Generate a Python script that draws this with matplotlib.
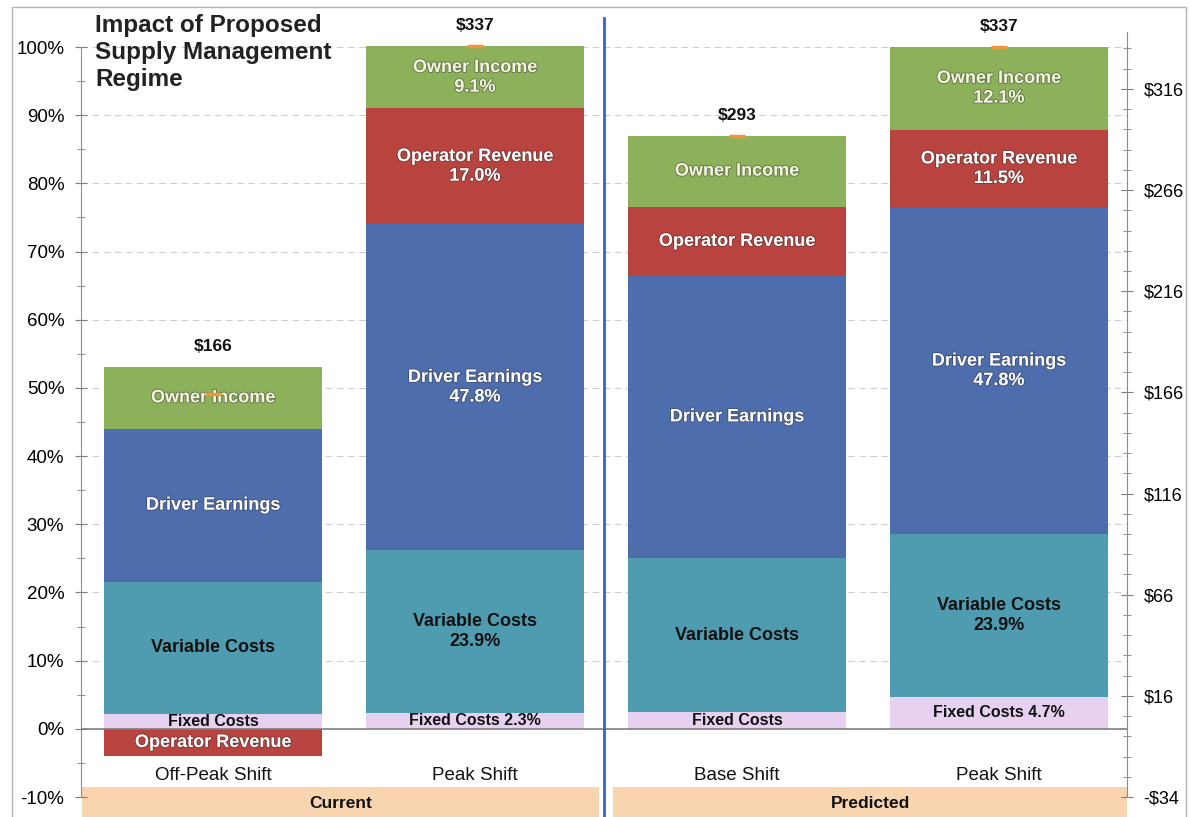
"""Stacked bar chart: impact of proposed supply management regime."""

import matplotlib.pyplot as plt
import matplotlib.patheffects as pe
import numpy as np
from matplotlib.lines import Line2D
from matplotlib.patches import Rectangle
from matplotlib.ticker import FixedLocator

plt.rcParams["font.family"] = ["Liberation Sans", "DejaVu Sans"]

categories = ["Off-Peak Shift", "Peak Shift", "Base Shift", "Peak Shift"]
groups = ["Current", "Predicted"]
group_sizes = [2, 2]
totals_usd = [166, 337, 293, 337]

# segment shares, % of peak-shift revenue ($337)
fixed_costs = [2.2, 2.3, 2.4, 4.7]
variable_costs = [19.4, 23.9, 22.7, 23.9]
driver_earnings = [22.4, 47.8, 41.3, 47.8]
operator_revenue = [-4.0, 17.0, 10.2, 11.5]
owner_income = [9.1, 9.1, 10.4, 12.1]

fixed_labels = ["Fixed Costs", "Fixed Costs 2.3%", "Fixed Costs", "Fixed Costs 4.7%"]
variable_labels = ["Variable Costs", "Variable Costs\n23.9%", "Variable Costs", "Variable Costs\n23.9%"]
driver_labels = ["Driver Earnings", "Driver Earnings\n47.8%", "Driver Earnings", "Driver Earnings\n47.8%"]
operator_labels = ["Operator Revenue", "Operator Revenue\n17.0%", "Operator Revenue", "Operator Revenue\n11.5%"]
owner_labels = ["Owner Income", "Owner Income\n9.1%", "Owner Income", "Owner Income\n12.1%"]

USD_PER_PCT = 337 / 100

segments = [
    (fixed_costs, fixed_labels, "#E6D1F0", "#111111", 11.5),
    (variable_costs, variable_labels, "#4F9CB0", "#111111", 13),
    (driver_earnings, driver_labels, "#4E6DAD", "white", 13),
    (operator_revenue, operator_labels, "#B8433F", "white", 13),
    (owner_income, owner_labels, "#8DB05A", "#F4F6DF", 13),
]

W, H = 1191, 817
fig = plt.figure(figsize=(W / 100, H / 100), dpi=100)
ax = fig.add_axes([81 / W, 1 - 797 / H, (1127 - 81) / W, (797 - 32) / H])

x = np.arange(len(categories))
BAR_W = 0.83
YMIN, YMAX = -10, 102.2
shadow = [pe.withStroke(linewidth=1.3, foreground="#333333", alpha=0.45)]

pos_bottom = np.zeros(len(x))
neg_bottom = np.zeros(len(x))
for values, labels, color, tcolor, size in segments:
    vals = np.array(values)
    bottom = np.where(vals >= 0, pos_bottom, neg_bottom)
    ax.bar(x, vals, width=BAR_W, bottom=bottom, color=color, edgecolor="none", zorder=2)
    for xi, b, v, lab in zip(x, bottom, vals, labels):
        fx = [] if tcolor.startswith("#1") else shadow
        ax.text(xi, b + v / 2, lab, ha="center", va="center", color=tcolor,
                fontsize=size, fontweight="bold", linespacing=1.2,
                path_effects=fx, zorder=4)
    pos_bottom = pos_bottom + np.where(vals >= 0, vals, 0)
    neg_bottom = neg_bottom + np.where(vals < 0, vals, 0)

net = pos_bottom + neg_bottom
ax.plot(x, net, linestyle="none", marker="_", markersize=12, markeredgewidth=2.5,
        color="#F0963A", zorder=5)
for xi, top, usd in zip(x, pos_bottom, totals_usd):
    ax.text(xi, top + 3.0, f"${usd}", ha="center", va="center", fontsize=12.5,
            fontweight="bold", color="#111111", clip_on=False)

ax.set_xlim(-0.504, 3.489)
ax.set_ylim(YMIN, YMAX)
ax.axhline(0, color="#7F7F7F", lw=1.2, zorder=3)

ax.yaxis.set_major_locator(FixedLocator(np.arange(-10, 101, 10)))
ax.yaxis.set_minor_locator(FixedLocator(np.arange(-5, 100, 10)))
ax.set_yticklabels([f"{v}%" for v in range(-10, 101, 10)])
ax.tick_params(axis="y", which="both", direction="inout", color="#7F7F7F",
               labelsize=13.5, pad=8)
ax.tick_params(axis="y", which="major", length=8)
ax.tick_params(axis="y", which="minor", length=6)
ax.set_xticks([])
for v in range(10, 101, 10):
    ax.axhline(v, color="#CFCFCF", lw=0.8, ls=(0, (6, 4)), zorder=1)

ax.spines["top"].set_visible(False)
ax.spines["bottom"].set_visible(False)
ax.spines["left"].set_bounds(-10, 100)
ax.spines["left"].set_color("#8C8C8C")
ax.spines["right"].set_visible(False)

for xi, cat in zip(x, categories):
    ax.text(xi, -6.9, cat, ha="center", va="center", fontsize=13.5, color="#111111")

# group boxes under the categories
start = -0.5
gap = 0.054
for name, n in zip(groups, group_sizes):
    x0 = start + (gap / 2 if start > 0 else 0)
    x1 = start + n - (gap / 2 if start + n < len(x) - 0.6 else 0.011)
    ax.add_patch(Rectangle((x0, -8.5), x1 - x0, -6, facecolor="#F8D4AF",
                           edgecolor="none", clip_on=False, zorder=1))
    ax.text((x0 + x1) / 2, -11.0, name, ha="center", va="center", fontsize=12.5,
            fontweight="bold", color="#111111", clip_on=False)
    start += n

# right-hand dollar axis
ax2 = ax.twinx()
ax2.set_ylim(YMIN * USD_PER_PCT, YMAX * USD_PER_PCT)
usd_ticks = np.arange(YMIN * USD_PER_PCT, 320, 50)
ax2.yaxis.set_major_locator(FixedLocator(usd_ticks))
ax2.yaxis.set_minor_locator(FixedLocator(np.arange(YMIN * USD_PER_PCT, YMAX * USD_PER_PCT, 10)))
ax2.set_yticklabels([f"-${abs(v):.0f}" if v < 0 else f"${v:.0f}" for v in usd_ticks])
ax2.tick_params(axis="y", which="both", direction="inout", color="#7F7F7F",
                labelsize=13, pad=8)
ax2.tick_params(axis="y", which="major", length=8)
ax2.tick_params(axis="y", which="minor", length=6)
for side in ["top", "bottom", "left"]:
    ax2.spines[side].set_visible(False)
ax2.spines["right"].set_color("#8C8C8C")

fig.text(95 / W, 1 - 14 / H, "Impact of Proposed\nSupply Management\nRegime",
         ha="left", va="top", fontsize=17.5, fontweight="bold", color="#222222",
         linespacing=1.22)

# divider between current and predicted, chart border
fig.add_artist(Line2D([604 / W, 604 / W], [0, 1 - 18 / H], color="#3C5FC8", lw=2))
fig.add_artist(Rectangle((12 / W, -0.01), (1186 - 12) / W, 1.01 - 7 / H,
                         transform=fig.transFigure, fill=False,
                         edgecolor="#B5B5B5", lw=1))

fig.savefig("out.png", dpi=100)
